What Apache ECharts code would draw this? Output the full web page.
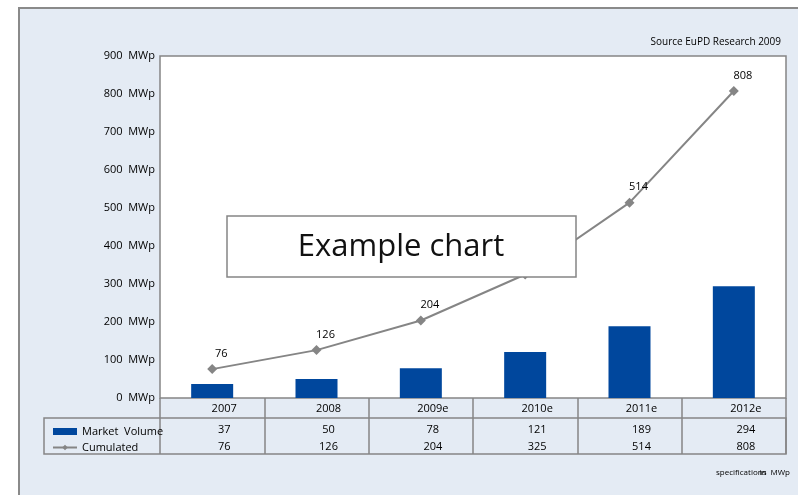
<!DOCTYPE html>
<html lang="en">
<head>
    <meta charset="UTF-8">
    <title>Example chart</title>
    <script type="text/javascript" src="https://cdn.jsdelivr.net/npm/echarts@6/dist/echarts.min.js"></script>
</head>
<body style="margin:0;background:#fff">
<div id="main" style="width:798px;height:495px"></div>
<script type="text/javascript">
    var years = ['2007', '2008', '2009e', '2010e', '2011e', '2012e'];
    var marketVolume = [37, 50, 78, 121, 189, 294];
    var cumulated = [76, 126, 204, 325, 514, 808];

    var font = 'Open Sans';
    var gray = '#858585';
    var cellLabel = {
        interval: 0, color: '#000', fontSize: 11, fontFamily: font,
        margin: 5, padding: [0, 0, 0, 24]
    };

    var myChart = echarts.init(document.getElementById('main'));

    var option = {
        animation: false,
        textStyle: {fontFamily: font},
        title: {
            text: 'Source EuPD Research 2009',
            right: 12, top: 32,
            textStyle: {fontSize: 10, fontWeight: 'normal', color: '#000', fontFamily: font}
        },
        legend: {
            orient: 'vertical',
            left: 47, top: 421,
            itemWidth: 24, itemHeight: 7, itemGap: 5,
            textStyle: {fontSize: 11, color: '#000', fontFamily: font},
            data: [{name: 'Market  Volume', icon: 'rect'}, {name: 'Cumulated'}]
        },
        grid: {
            left: 160, top: 56, right: 12, height: 342,
            show: true, backgroundColor: '#fff', borderColor: gray, borderWidth: 1.5,
            containLabel: false
        },
        xAxis: [
            {
                type: 'category', data: years,
                axisLine: {show: false},
                axisTick: {show: true, length: 56, lineStyle: {color: gray, width: 1.5}},
                axisLabel: cellLabel
            },
            {
                type: 'category', position: 'bottom', offset: 21,
                data: marketVolume.map(String),
                axisLine: {show: false}, axisTick: {show: false},
                axisLabel: cellLabel
            },
            {
                type: 'category', position: 'bottom', offset: 38,
                data: cumulated.map(String),
                axisLine: {show: false}, axisTick: {show: false},
                axisLabel: cellLabel
            }
        ],
        yAxis: {
            type: 'value', min: 0, max: 900, interval: 100,
            axisLine: {show: false}, axisTick: {show: false}, splitLine: {show: false},
            axisLabel: {
                color: '#000', fontSize: 11, fontFamily: font, margin: 5,
                padding: [4, 0, 0, 0],
                formatter: function (v) { return v + '  MWp'; }
            }
        },
        series: [
            {
                name: 'Market  Volume',
                type: 'bar',
                data: marketVolume,
                barWidth: 42,
                itemStyle: {color: '#00479d'}
            },
            {
                name: 'Cumulated',
                type: 'line',
                data: cumulated,
                symbol: 'diamond',
                symbolSize: 10,
                lineStyle: {color: gray, width: 2},
                itemStyle: {color: gray},
                label: {
                    show: true, position: 'top', offset: [9, 0],
                    color: '#000', fontSize: 11, fontFamily: font
                },
                z: 3
            }
        ],
        graphic: [
            {
                type: 'rect', z: -10, silent: true,
                shape: {x: 19, y: 8, width: 800, height: 500},
                style: {fill: '#e4ebf4', stroke: '#8a8a8a', lineWidth: 2}
            },
            {
                type: 'rect', z: 10, silent: true,
                shape: {x: 44, y: 418, width: 742, height: 36},
                style: {fill: null, stroke: gray, lineWidth: 1.5}
            },
            {
                type: 'rect', z: 20, silent: true,
                shape: {x: 227, y: 216, width: 349, height: 61},
                style: {fill: '#fff', stroke: gray, lineWidth: 1.5}
            },
            {
                type: 'text', z: 21, silent: true,
                x: 401, y: 247,
                style: {
                    text: 'Example chart', fill: '#111', fontSize: 31, fontFamily: font,
                    align: 'center', verticalAlign: 'middle'
                }
            },
            {
                type: 'text', silent: true,
                x: 716, y: 473,
                style: {
                    text: 'specifications', fill: '#000', fontSize: 8, fontFamily: font,
                    verticalAlign: 'middle'
                }
            },
            {
                type: 'text', silent: true,
                x: 790, y: 473,
                style: {
                    text: 'in  MWp', fill: '#000', fontSize: 8, fontFamily: font,
                    align: 'right', verticalAlign: 'middle'
                }
            }
        ]
    };

    option && myChart.setOption(option);
</script>
</body>
</html>
